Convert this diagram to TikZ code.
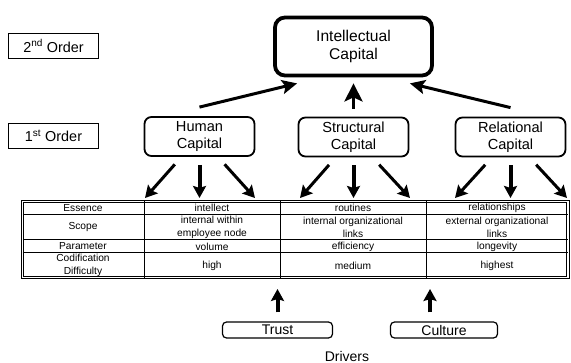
\documentclass[tikz,border=0pt]{standalone}
\usepackage{fontspec}
\setmainfont{Liberation Sans}
\usetikzlibrary{arrows.meta}

\begin{document}
\begin{tikzpicture}[
    x = 1pt, y = -1pt,
    capbox/.style = {draw, line width = 1.8pt, rounded corners = 7pt, align = center,
        font = \fontsize{14.6}{17}\selectfont, minimum width = 110pt, minimum height = 39pt, inner sep = 0pt},
    topbox/.style = {capbox, line width = 3.8pt, rounded corners = 10pt,
        font = \fontsize{15.6}{18.5}\selectfont, minimum width = 157pt, minimum height = 58pt},
    orderbox/.style = {draw, line width = 1.5pt, minimum width = 90pt, minimum height = 25pt,
        font = \fontsize{14.4}{16}\selectfont, inner sep = 0pt},
    driverbox/.style = {draw, line width = 1.2pt, rounded corners = 4pt, minimum width = 110pt,
        minimum height = 16pt, inner sep = 0pt, font = \fontsize{14}{15}\selectfont},
    cell/.style = {align = center, font = \fontsize{10.2}{12.6}\selectfont, inner sep = 0pt},
    arr/.style = {line width = 3pt, -{Stealth[length = 12pt, width = 13pt, inset = 2pt]}},
    midarr/.style = {arr, line width = 4pt},
    uparr/.style = {line width = 3pt, -{Stealth[length = 15pt, width = 14pt, inset = 3pt]}},
    bigarr/.style = {line width = 3.5pt, -{Stealth[length = 18pt, width = 18pt, inset = 4pt]}}]

\useasboundingbox (0,0) rectangle (571,363);

% order labels
\node[orderbox] (o2) at (53.5,46) {2\textsuperscript{nd} Order};
\node[orderbox] (o1) at (53.5,136) {1\textsuperscript{st} Order};

% capitals
\node[topbox] (ic) at (353.5,46.5) {Intellectual\\Capital};
\node[capbox] (hc) at (199.5,136.5) {Human\\Capital};
\node[capbox] (sc) at (353.5,137) {Structural\\Capital};
\node[capbox] (rc) at (510.5,137) {Relational\\Capital};

\draw[uparr] ([shift={(0,-9)}]hc.north) -- ([shift={(24,6)}]ic.south west);
\draw[bigarr] ([shift={(0,-8)}]sc.north) -- ([shift={(0,6)}]ic.south);
\draw[uparr] ([shift={(0,-9)}]rc.north) -- ([shift={(-24,6)}]ic.south east);

% table
\draw[line width = 0.9pt, double, double distance = 1.4pt] (22.5,201.5) rectangle (568,277.5);
\draw[line width = 1pt]
      (144,201) -- (144,278)
      (280,201) -- (280,278)
      (426,201) -- (426,278)
      (22.5,215) -- (568,215)
      (22.5,240) -- (568,240)
      (22.5,253) -- (568,253);
\path (83,208)    node[cell] (ess) {Essence}
      (212,208)   node[cell] (ess1) {intellect}
      (353,208)   node[cell] (ess2) {routines}
      (497,208)   node[cell] (ess3) {relationships}
      (83,227.5)  node[cell] (scp) {Scope}
      (212,227.5) node[cell] (scp1) {internal within\\employee node}
      (353,227.5) node[cell] (scp2) {internal organizational\\links}
      (497,227.5) node[cell] (scp3) {external organizational\\links}
      (83,246.5)  node[cell] (par) {Parameter}
      (212,246.5) node[cell] (par1) {volume}
      (353,246.5) node[cell] (par2) {efficiency}
      (497,246.5) node[cell] (par3) {longevity}
      (83,265.5)  node[cell] (cod) {Codification\\Difficulty}
      (212,265.5) node[cell] (cod1) {high}
      (353,265.5) node[cell] (cod2) {medium}
      (497,265.5) node[cell] (cod3) {highest};

% arrow ends on the table
\coordinate (h1) at (145,198);
\coordinate (h2) at (199.5,198);
\coordinate (h3) at (255,198);
\coordinate (s1) at (300,198);
\coordinate (s2) at (353.5,198);
\coordinate (s3) at (410,198);
\coordinate (r1) at (455,198);
\coordinate (r2) at (510.5,198);
\coordinate (r3) at (567,198);

\draw[arr, shorten <= 10pt] (hc) -- (h1);
\draw[midarr, shorten <= 8pt] (hc) -- (h2);
\draw[arr, shorten <= 10pt] (hc) -- (h3);
\draw[arr, shorten <= 10pt] (sc) -- (s1);
\draw[midarr, shorten <= 8pt] (sc) -- (s2);
\draw[arr, shorten <= 10pt] (sc) -- (s3);
\draw[arr, shorten <= 10pt] (rc) -- (r1);
\draw[midarr, shorten <= 8pt] (rc) -- (r2);
\draw[arr, shorten <= 10pt] (rc) -- (r3);

% drivers
\node[driverbox] (trust) at (277.5,330) {Trust};
\node[driverbox, minimum width = 107pt] (culture) at (444,330) {Culture};
\node[font = \fontsize{14}{15}\selectfont, inner sep = 0pt] (drv) at (347,356) {Drivers};

\coordinate (d1) at (277.5,289);
\coordinate (d2) at (430,289);
\draw[midarr] ([shift={(0,-9)}]trust.north) -- (d1);
\draw[midarr] ([shift={(-14,-9)}]culture.north) -- (d2);
\end{tikzpicture}
\end{document}
